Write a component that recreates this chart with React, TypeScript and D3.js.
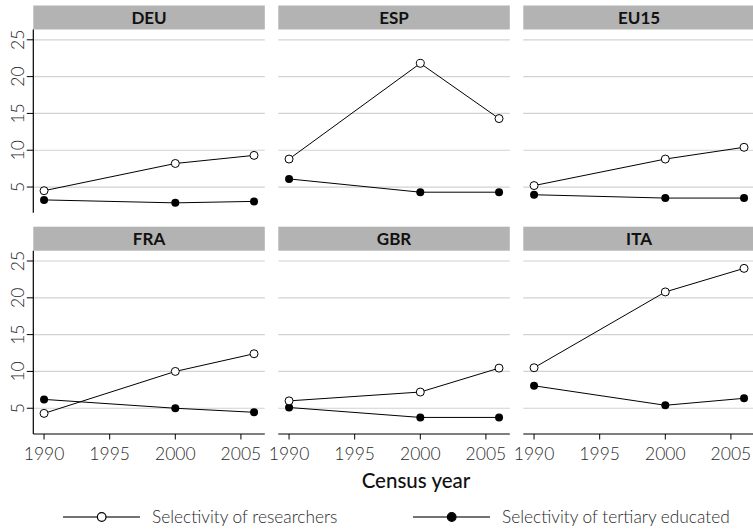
import React from "react";
import * as d3 from "d3";

const years = [1990, 2000, 2006];
const countries = ["DEU", "ESP", "EU15", "FRA", "GBR", "ITA"];
// selectivity of researchers, per country, per census year
const researchers = [
  [4.5, 8.2, 9.3],
  [8.8, 21.8, 14.3],
  [5.2, 8.8, 10.4],
  [4.3, 10.0, 12.4],
  [6.0, 7.2, 10.45],
  [10.5, 20.8, 24.0],
];
// selectivity of tertiary educated
const tertiary = [
  [3.25, 2.85, 3.05],
  [6.1, 4.3, 4.3],
  [3.95, 3.5, 3.5],
  [6.2, 5.0, 4.45],
  [5.1, 3.75, 3.75],
  [8.05, 5.4, 6.35],
];
const xTicks = [1990, 1995, 2000, 2005];
const yTicks = [5, 10, 15, 20, 25];
const legendLabels = ["Selectivity of researchers", "Selectivity of tertiary educated"];

const FONT = "Lato, 'Open Sans', sans-serif";
const W = 753;
const H = 530;
const colLeft = 33.3;
const colStep = 245;
const panelW = 231.5;
const rowTop = [5.5, 226.7];
const headerH = 24;
const plotH = 183.3;

function Panel({ i }: { i: number }) {
  const col = i % 3;
  const row = Math.floor(i / 3);
  const left = colLeft + col * colStep;
  const top = rowTop[row] + headerH;
  const bottom = top + plotH;
  const x = d3.scaleLinear().domain([1989.18, 2006.82]).range([left, left + panelW]);
  const y = d3.scaleLinear().domain([1.5, 26.4]).range([bottom, top]);
  const line = d3
    .line<number>()
    .x((_, k) => x(years[k]))
    .y((d) => y(d));

  return (
    <g>
      <rect x={left} y={rowTop[row]} width={panelW} height={headerH} fill="#b3b3b3" />
      <text
        x={left + panelW / 2}
        y={rowTop[row] + headerH / 2 + 6}
        textAnchor="middle"
        fontFamily={FONT}
        fontWeight={700}
        fontSize={17}
        fill="#111"
      >
        {countries[i]}
      </text>
      {yTicks.map((t) => (
        <line key={t} x1={left} x2={left + panelW} y1={y(t)} y2={y(t)} stroke="#d2d2d2" strokeWidth={1.2} />
      ))}
      {col === 0 && (
        <g>
          <line x1={left} x2={left} y1={top} y2={bottom} stroke="#000" strokeWidth={1.2} />
          {yTicks.map((t) => (
            <g key={t}>
              <line x1={left - 6.5} x2={left} y1={y(t)} y2={y(t)} stroke="#000" />
              <text
                transform={`translate(23.5,${y(t)}) rotate(-90)`}
                textAnchor="middle"
                fontFamily={FONT}
                fontWeight={300}
                fontSize={17.5}
                fill="#2a2a2a"
              >
                {t}
              </text>
            </g>
          ))}
        </g>
      )}
      {row === 1 && (
        <g>
          <line x1={left} x2={left + panelW} y1={bottom} y2={bottom} stroke="#000" strokeWidth={1.2} />
          {xTicks.map((t) => (
            <g key={t}>
              <line x1={x(t)} x2={x(t)} y1={bottom} y2={bottom + 5.5} stroke="#000" />
              <text
                x={x(t)}
                y={bottom + 25.5}
                textAnchor="middle"
                fontFamily={FONT}
                fontWeight={300}
                fontSize={17.5}
                fill="#2a2a2a"
              >
                {t}
              </text>
            </g>
          ))}
        </g>
      )}
      <path d={line(tertiary[i]) || ""} fill="none" stroke="#000" strokeWidth={1} />
      <path d={line(researchers[i]) || ""} fill="none" stroke="#000" strokeWidth={1} />
      {tertiary[i].map((v, k) => (
        <circle key={"t" + k} cx={x(years[k])} cy={y(v)} r={4} fill="#000" />
      ))}
      {researchers[i].map((v, k) => (
        <circle key={"r" + k} cx={x(years[k])} cy={y(v)} r={4} fill="#fff" stroke="#000" strokeWidth={1} />
      ))}
    </g>
  );
}

export default function App() {
  const legendX = [63, 413];
  const legendY = 517;
  return (
    <svg width={W} height={H} style={{ position: "absolute", left: 0, top: 0, background: "#fff" }}>
      {countries.map((c, i) => (
        <Panel key={c} i={i} />
      ))}
      <text x={416} y={488} textAnchor="middle" fontFamily={FONT} fontWeight={500} fontSize={20.5} fill="#111">
        Census year
      </text>
      {legendLabels.map((lab, k) => (
        <g key={lab}>
          <line x1={legendX[k]} x2={legendX[k] + 77} y1={legendY} y2={legendY} stroke="#444" strokeWidth={1.4} />
          <circle
            cx={legendX[k] + 38.7}
            cy={legendY}
            r={4.3}
            fill={k === 0 ? "#fff" : "#000"}
            stroke="#000"
            strokeWidth={1.2}
          />
          <text
            x={legendX[k] + 89}
            y={legendY + 6}
            fontFamily={FONT}
            fontWeight={300}
            fontSize={17.3}
            fill="#2a2a2a"
          >
            {lab}
          </text>
        </g>
      ))}
    </svg>
  );
}
